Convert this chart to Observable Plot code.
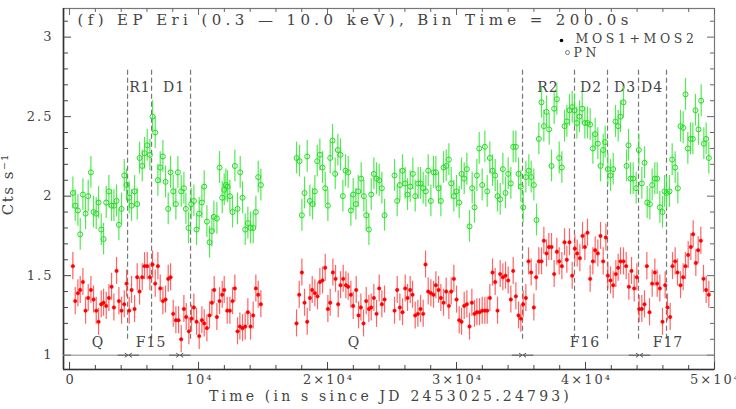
<!DOCTYPE html>
<html><head><meta charset="utf-8">
<script src="https://cdn.jsdelivr.net/npm/d3@7"></script>
<script src="https://cdn.jsdelivr.net/npm/@observablehq/plot@0.6"></script>
<style>
body{margin:0;background:#fff}
g[aria-description="title"] text{letter-spacing:4.4px}
g[aria-description="xlabel"] text{letter-spacing:3.2px}
g[aria-description="ylabel"] text{letter-spacing:1.5px}
g[aria-description="ticklabel"] text{letter-spacing:2px}
g[aria-description="phase"] text{letter-spacing:1px}
g[aria-description="legend"] text{letter-spacing:3.6px}
</style></head><body><div id="chart"></div>
<script>
// PN light curve [time (s), rate (cts/s)]
const pn = [[256,2.02],[440,1.94],[645,1.91],[827,1.76],[1034,2.01],[1240,1.89],[1447,2.00],[1654,2.15],[1860,1.90],[2067,1.89],[2248,1.96],[2455,1.79],[2636,1.73],[2842,1.96],[3049,2.03],[3256,1.94],[3437,1.94],[3643,1.97],[3824,1.82],[4031,1.92],[4240,2.13],[4419,2.07],[4625,1.99],[4806,1.94],[5039,2.03],[5245,1.95],[5426,2.24],[5633,2.19],[5814,2.27],[6021,2.32],[6227,2.26],[6434,2.50],[6641,2.40],[6847,2.10],[7029,2.18],[7235,2.25],[7442,2.09],[7649,1.92],[7830,2.15],
[8036,2.03],[8242,1.95],[8397,2.15],[8656,2.03],[8863,2.05],[9018,1.92],[9224,1.80],[9431,1.95],[9638,1.97],[9845,1.79],[10051,1.89],[10258,1.96],[10439,2.06],[10646,1.84],[10852,1.71],[11033,1.78],[11188,1.87],[11421,1.86],[11628,2.18],[11834,1.99],[11989,2.04],[12118,2.07],[12248,2.06],[12429,2.00],[12635,1.90],[12816,2.19],[13023,1.92],[13230,2.15],[13410,1.99],[13617,1.79],[13823,1.83],[14030,1.80],[14236,1.80],[14443,1.90],[14625,2.12],[14832,2.07],
[17597,2.24],[17830,2.22],[18011,1.88],[18217,2.02],[18424,2.25],[18631,1.97],[18838,1.95],[19018,2.03],[19199,2.22],[19406,2.26],[19613,2.18],[19820,2.05],[20026,1.94],[20207,2.24],[20388,2.35],[20595,2.14],[20801,2.29],[21008,2.26],[21189,2.00],[21396,2.16],[21603,2.15],[21809,1.91],[21990,2.01],[22197,1.95],[22378,2.03],[22610,2.11],[22817,2.00],[22998,1.88],[23205,1.79],[23386,2.01],[23592,2.14],[23799,2.11],[24006,2.10],[24212,2.05],[24419,1.88],
[25194,2.13],[25401,1.97],[25608,2.07],[25814,2.16],[26021,2.08],[26202,2.01],[26409,2.06],[26615,2.14],[26796,2.00],[27029,2.08],[27210,2.08],[27416,2.05],[27623,2.03],[27804,2.16],[28011,1.97],[28217,2.15],[28398,2.15],[28605,2.05],[28786,1.97],[28993,2.18],[29199,2.19],[29406,2.23],[29587,2.08],[29794,2.00],[30000,2.03],[30207,1.96],[30388,2.14],[30595,2.11],[30801,2.17],[31008,1.81],[31215,2.05],[31396,1.93],[31577,2.13],[31758,2.30],[31990,2.07],[32197,2.31],[32378,2.03],[32584,2.24],[32791,2.16],[32998,2.13],
[33179,2.00],[33385,1.98],[33592,2.17],[33799,2.02],[34005,2.14],[34212,2.08],[34393,2.31],[34600,2.31],[34806,2.14],[34987,2.06],[35168,1.93],[35375,2.12],[35607,2.16],[35788,2.12],[35995,2.07],[36202,1.85],[36383,2.36],[36589,2.59],[36770,2.44],[36977,2.53],[37184,2.42],[37365,2.19],[37571,2.55],[37778,2.61],[37959,2.24],[38166,2.18],[38372,2.44],[38553,2.47],[38760,2.54],[38967,2.56],[39148,2.54],[39328,2.46],[39535,2.50],[39742,2.55],[39949,2.46],[40155,2.46],[40362,2.45],[40569,2.30],[40750,2.39],[40956,2.33],[41163,2.19],[41370,2.29],[41525,2.34],
[41731,2.17],[41938,2.13],[42145,2.17],[42326,2.47],[42532,2.44],[42713,2.50],[42946,2.59],[43179,2.19],[43333,2.32],[43489,2.11],[43695,2.11],[43928,2.05],[44135,2.29],[44367,2.08],[44574,2.21],[44780,1.96],[44987,1.95],[45168,2.07],[45375,2.11],[45556,2.11],[45762,1.93],[45969,1.90],[46124,2.03],[46279,2.02],[46512,2.03],[46718,2.23],[46951,2.18],[47158,2.05],[47364,2.44],[47571,2.43],[47752,2.64],[47933,2.30],[48140,2.36],[48321,2.36],[48527,2.54],[48760,2.42],[48967,2.60],[49173,2.33],[49354,2.36],[49561,2.24]];

// MOS1+MOS2 light curve [time (s), rate (cts/s)]
const mos = [[256,1.56],[440,1.34],[645,1.39],[827,1.41],[1034,1.46],[1240,1.28],[1447,1.36],[1654,1.41],[1860,1.35],[2067,1.28],[2248,1.21],[2455,1.32],[2636,1.33],[2842,1.31],[3049,1.36],[3256,1.43],[3437,1.30],[3643,1.53],[3824,1.34],[4031,1.28],[4240,1.32],[4419,1.45],[4625,1.28],[4806,1.41],[5039,1.29],[5245,1.49],[5426,1.40],[5633,1.49],[5814,1.56],[6021,1.56],[6227,1.49],[6434,1.57],[6641,1.45],[6847,1.56],[7029,1.42],[7235,1.34],[7442,1.35],[7649,1.48],[7830,1.49],
[8036,1.26],[8242,1.22],[8449,1.22],[8656,1.10],[8863,1.29],[9043,1.24],[9250,1.15],[9457,1.23],[9638,1.30],[9845,1.21],[10051,1.12],[10258,1.22],[10439,1.20],[10646,1.17],[10852,1.25],[11033,1.33],[11214,1.41],[11421,1.24],[11628,1.34],[11834,1.38],[11989,1.41],[12222,1.28],[12429,1.28],[12635,1.34],[12816,1.42],[13023,1.15],[13204,1.18],[13410,1.17],[13617,1.18],[13823,1.27],[14030,1.18],[14236,1.25],[14443,1.42],[14625,1.38],[14832,1.32],
[17597,1.20],[17804,1.38],[18011,1.52],[18217,1.33],[18424,1.21],[18631,1.36],[18812,1.41],[19018,1.39],[19225,1.37],[19406,1.46],[19613,1.47],[19820,1.55],[20026,1.29],[20207,1.33],[20414,1.52],[20621,1.48],[20827,1.32],[21008,1.44],[21215,1.48],[21422,1.44],[21603,1.43],[21809,1.38],[21990,1.31],[22223,1.41],[22404,1.25],[22585,1.30],[22791,1.20],[22998,1.34],[23205,1.29],[23386,1.30],[23592,1.36],[23799,1.26],[24006,1.42],[24212,1.32],[24419,1.35],
[25194,1.28],[25401,1.41],[25608,1.30],[25814,1.27],[26021,1.42],[26202,1.36],[26409,1.41],[26589,1.38],[26796,1.25],[27003,1.26],[27210,1.29],[27416,1.26],[27597,1.57],[27804,1.40],[28011,1.39],[28217,1.38],[28398,1.44],[28605,1.41],[28786,1.36],[28993,1.33],[29199,1.40],[29406,1.31],[29587,1.40],[29794,1.48],[30000,1.35],[30207,1.22],[30388,1.21],[30595,1.31],[30801,1.32],[31008,1.18],[31189,1.33],[31396,1.26],[31577,1.27],[31784,1.27],[31990,1.28],[32197,1.28],[32378,1.28],[32584,1.36],[32791,1.52],[32998,1.46],
[33179,1.28],[33385,1.51],[33592,1.49],[33799,1.50],[34005,1.47],[34212,1.35],[34393,1.53],[34600,1.37],[34806,1.25],[34987,1.23],[35168,1.32],[35375,1.36],[35582,1.59],[35788,1.52],[35995,1.30],[36176,1.49],[36383,1.59],[36589,1.59],[36770,1.72],[36977,1.64],[37158,1.68],[37365,1.68],[37571,1.51],[37778,1.65],[37959,1.59],[38166,1.56],[38372,1.71],[38553,1.60],[38760,1.71],[38967,1.50],[39174,1.67],[39354,1.64],[39561,1.61],[39768,1.75],[39949,1.68],[40155,1.77],[40362,1.48],[40569,1.59],[40750,1.66],[40956,1.64],[41163,1.75],[41370,1.59],[41577,1.74],
[41731,1.50],[41938,1.47],[42145,1.44],[42352,1.51],[42532,1.55],[42713,1.59],[42946,1.59],[43153,1.56],[43360,1.43],[43566,1.53],[43773,1.42],[43980,1.49],[44160,1.29],[44367,1.29],[44574,1.32],[44755,1.56],[44962,1.27],[45168,1.45],[45375,1.52],[45556,1.45],[45762,1.42],[45969,1.21],[46176,1.44],[46357,1.30],[46564,1.24],[46744,1.56],[46951,1.59],[47132,1.52],[47365,1.44],[47571,1.49],[47752,1.56],[47959,1.63],[48166,1.68],[48346,1.76],[48553,1.58],[48734,1.66],[48940,1.72],[49147,1.48],[49354,1.41],[49561,1.38]];

const pnErr = 0.1;    // typical 1-sigma half-width
const mosErr = 0.085;

const phaseLines = [4496, 6357, 9380, 35116, 39147, 41705, 44109, 46279];
const phaseLineRange = [1.1, 2.8];
const phaseTop = [["R1",5426],["D1",8062],["R2",37054],["D2",40388],["D3",43024],["D4",45117]];
const phaseTopY = 2.685;
const phaseBottom = [["Q",2171],["F15",6279],["Q",22016],["F16",39922],["F17",46357]];
const phaseBottomY = 1.08;
const arrowMeet = [4558, 8543, 35116, 44186];

const xDomain = [-470, 50000];
const yDomain = [0.91, 3.18];
const xMajor = [0, 10000, 20000, 30000, 40000, 50000];
const xTickLabels = ["0", "10\u2074", "2\u00d710\u2074", "3\u00d710\u2074", "4\u00d710\u2074", "5\u00d710\u2074"];
const xMinor = d3.range(0, 50001, 2000).filter(v => v % 10000 !== 0);
const yMajor = [1, 1.5, 2, 2.5, 3];
const yTickLabels = ["1", "1.5", "2", "2.5", "3"];
const yMinor = d3.range(10, 32).map(v => v / 10).filter(v => !yMajor.includes(v));

const titleText = "(f) EP Eri (0.3 \u2014 10.0 keV), Bin Time = 200.0s";
const xLabel = "Time (in s since JD 2453025.24793)";
const yLabel = "Cts s\u207b\u00b9";
const yLabelAt = 1.88;
const legendLabels = ["MOS1+MOS2", "PN"];

const W = 736, H = 409, mL = 63, mR = 22, mT = 8, mB = 40;
const fw = W - mL - mR, fh = H - mT - mB;
const font = "DejaVu Serif";
const ink = "#444";

const arrows = arrowMeet.flatMap(p => [{a: p - 800, b: p - 40}, {a: p + 800, b: p + 40}]);

const chart = Plot.plot({
  width: W, height: H,
  marginLeft: mL, marginRight: mR, marginTop: mT, marginBottom: mB,
  x: {domain: xDomain, axis: null},
  y: {domain: yDomain, axis: null},
  style: {fontFamily: font, background: "#fff"},
  marks: [
    Plot.frame({stroke: "#777", strokeWidth: 1.2}),
    Plot.ruleX([xDomain[0]], {stroke: "#333", strokeWidth: 1.6}),
    Plot.ruleY([yDomain[0]], {stroke: "#333", strokeWidth: 1.6}),
    // ticks (inward)
    Plot.tickX(xMajor, {x: d => d, insetTop: fh - 7, stroke: "#444"}),
    Plot.tickX(xMinor, {x: d => d, insetTop: fh - 4, stroke: "#444"}),
    Plot.tickX(xMajor, {x: d => d, insetBottom: fh - 7, stroke: "#666"}),
    Plot.tickX(xMinor, {x: d => d, insetBottom: fh - 4, stroke: "#666"}),
    Plot.tickY(yMajor, {y: d => d, insetRight: fw - 8, stroke: "#444"}),
    Plot.tickY(yMinor, {y: d => d, insetRight: fw - 5, stroke: "#444"}),
    Plot.tickY(yMajor, {y: d => d, insetLeft: fw - 7, stroke: "#666"}),
    Plot.tickY(yMinor, {y: d => d, insetLeft: fw - 4, stroke: "#666"}),
    // tick labels
    Plot.text(yMajor, {y: d => d, text: (d, i) => yTickLabels[i], frameAnchor: "left", textAnchor: "end", dx: -10, fontSize: 13, fill: ink, ariaDescription: "ticklabel"}),
    Plot.text(xMajor, {x: d => d, text: (d, i) => xTickLabels[i], frameAnchor: "bottom", lineAnchor: "middle", dy: 10, dx: 1, fontSize: 13, fill: ink, ariaDescription: "ticklabel"}),
    // axis labels
    Plot.text([xLabel], {text: d => d, frameAnchor: "bottom", lineAnchor: "middle", dy: 27, dx: 1.5, fontSize: 14, fill: ink, ariaDescription: "xlabel"}),
    Plot.text([yLabel], {text: d => d, y: yLabelAt, frameAnchor: "left", rotate: -90, lineAnchor: "middle", dx: -55, fontSize: 15, fill: ink, ariaDescription: "ylabel"}),
    // baseline at 1 and phase markers
    Plot.ruleY([1], {stroke: "#888", strokeWidth: 1}),
    Plot.arrow(arrows, {x1: "a", x2: "b", y1: 1, y2: 1, stroke: "#555", strokeWidth: 1, headLength: 5, headAngle: 70}),
    Plot.ruleX(phaseLines, {x: d => d, y1: phaseLineRange[0], y2: phaseLineRange[1], stroke: "#777", strokeWidth: 1.2, strokeDasharray: "5,3"}),
    Plot.text(phaseTop, {x: d => d[1], y: phaseTopY, text: d => d[0], fontSize: 14, fill: ink, dx: 0.5, ariaDescription: "phase"}),
    Plot.text(phaseBottom, {x: d => d[1], y: phaseBottomY, text: d => d[0], fontSize: 14, fill: ink, dx: 0.5, ariaDescription: "phase"}),
    // error bars
    Plot.ruleX(pn, {x: d => d[0], y1: d => d[1] - pnErr, y2: d => d[1] + pnErr, stroke: "#3fe83f", strokeWidth: 1.2, strokeOpacity: 0.9}),
    Plot.ruleX(mos, {x: d => d[0], y1: d => d[1] - mosErr, y2: d => d[1] + mosErr, stroke: "#ff3030", strokeWidth: 1.2, strokeOpacity: 0.75}),
    // points
    Plot.dot(pn, {x: d => d[0], y: d => d[1], r: 2.5, stroke: "#22dd22", strokeWidth: 1, fill: "none"}),
    Plot.dot(mos, {x: d => d[0], y: d => d[1], r: 1.7, fill: "#ff0000", stroke: "#ff0000", strokeWidth: 0.6}),
    // title
    Plot.text([titleText], {text: d => d, frameAnchor: "top-left", textAnchor: "start", lineAnchor: "middle", dx: 14, dy: 12, fontSize: 15, fill: ink, ariaDescription: "title"}),
    // legend
    Plot.dot([0], {frameAnchor: "top-right", dx: -153, dy: 32, r: 1.8, fill: "#000", stroke: "none"}),
    Plot.dot([0], {frameAnchor: "top-right", dx: -147, dy: 44, r: 2, fill: "none", stroke: "#666", strokeWidth: 0.9}),
    Plot.text([legendLabels[0]], {text: d => d, frameAnchor: "top-right", textAnchor: "start", lineAnchor: "middle", dx: -139, dy: 30.5, fontSize: 12.5, fill: ink, ariaDescription: "legend"}),
    Plot.text([legendLabels[1]], {text: d => d, frameAnchor: "top-right", textAnchor: "start", lineAnchor: "middle", dx: -141, dy: 44.5, fontSize: 12.5, fill: ink, ariaDescription: "legend"})
  ]
});
document.getElementById("chart").appendChild(chart);
</script></body></html>
